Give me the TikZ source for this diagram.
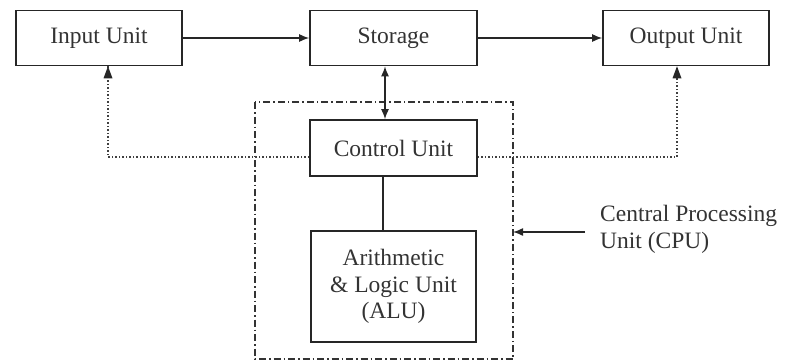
\documentclass[tikz,border=0pt]{standalone}
\usepackage{fontspec}
\setmainfont{Liberation Serif}
\usetikzlibrary{arrows.meta}
\begin{document}
\begin{tikzpicture}[x=1pt,y=-1pt,
  unitbox/.style={draw=black!85,line width=1.6pt,inner sep=0pt,font=\fontsize{23.5}{27}\selectfont,align=center,text=black!80},
  tip/.style={Latex[length=10pt,width=8pt]},
  arr/.style={line width=1.4pt,draw=black!85,-{Latex[length=10pt,width=8pt]}},
  dotline/.style={line width=1.6pt,draw=black!75,dash pattern=on 1.5pt off 2pt},
  cpubox/.style={draw=black!80,line width=1.4pt,dash pattern=on 7pt off 3pt on 1.5pt off 3pt}]
\useasboundingbox (0,0) rectangle (785,362);
\node[unitbox,minimum width=166pt,minimum height=55pt] (in) at (99,38) {Input Unit};
\node[unitbox,minimum width=167pt,minimum height=55pt] (st) at (393.5,38) {Storage};
\node[unitbox,minimum width=166pt,minimum height=55pt] (out) at (686,38) {Output Unit};
\node[unitbox,minimum width=167pt,minimum height=56pt] (cu) at (393.5,148) {Control Unit};
\node[unitbox,minimum width=165pt,minimum height=111pt,font=\fontsize{23.5}{26.5}\selectfont] (alu) at (393.5,286.5) {Arithmetic\\ \& Logic Unit\\ (ALU)};
\draw[cpubox] (255,102) rectangle (513,359);
\draw[arr] (in) -- (st);
\draw[arr] (st) -- (out);
\draw[line width=1.4pt,draw=black!85,{Latex[length=10pt,width=8pt]}-{Latex[length=10pt,width=8pt]}] (st.south -| 385,0) -- (cu.north -| 385,0);
\draw[line width=1.4pt,draw=black!85] (cu.south -| 383,0) -- (alu.north -| 383,0);
\coordinate (lc) at (108,157);
\coordinate (rc) at (677,157);
\draw[dotline] (cu.west |- lc) -- (lc) -- (in.south -| lc);
\draw[dotline] (cu.east |- rc) -- (rc) -- (out.south -| rc);
\fill[black!85] (in.south -| lc) -- ++(-4.5,12) -- ++(9,0) -- cycle;
\fill[black!85] (out.south -| rc) -- ++(-4.5,12) -- ++(9,0) -- cycle;
\node[font=\fontsize{23.5}{27}\selectfont,align=left,anchor=north west,inner sep=0pt,text=black!80] (lab) at (600,205) {Central Processing\\Unit (CPU)};
\coordinate (cpuR) at (513,232);
\coordinate (labarr) at (585,232);
\draw[arr] (labarr) -- (cpuR);
\end{tikzpicture}
\end{document}
